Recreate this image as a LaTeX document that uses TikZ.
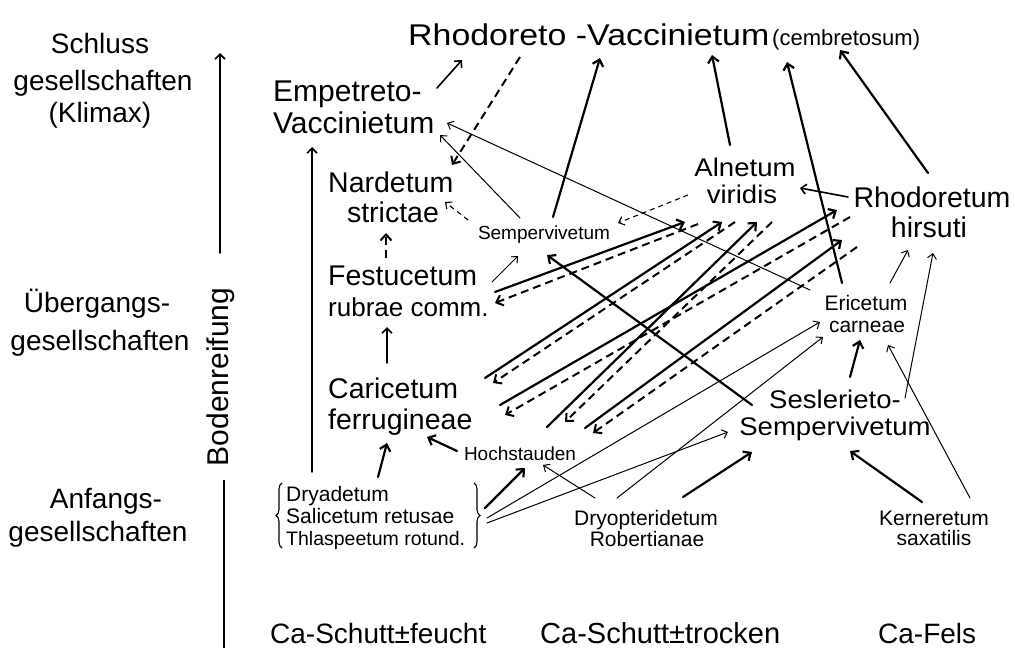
\documentclass[tikz,border=0pt]{standalone}
\usepackage{fontspec}
\setmainfont{Liberation Sans}
\usetikzlibrary{arrows.meta,decorations.pathreplacing}
\newcommand\fsz[1]{\fontsize{#1}{#1}\selectfont}
\newcommand\wid[1]{\scalebox{1.08}[1]{#1}}
\begin{document}
\begin{tikzpicture}[x=1pt,y=-1pt,
  lbl/.style={inner sep=0pt, anchor=base},
  lblw/.style={inner sep=0pt, anchor=base west},
  big/.style={font=\fsz{28.5}},
  mbig/.style={font=\fsz{25.5}},
  side/.style={font=\fsz{28}},
  small/.style={font=\fsz{21}},
  tiny/.style={font=\fsz{19}},
  thk/.style={line width=2.2pt, line cap=round, -{Straight Barb[length=6pt,width=11pt]}},
  mid/.style={line width=1.6pt, line cap=round, -{Straight Barb[length=5pt,width=10pt]}},
  thn/.style={line width=1pt, line cap=round, -{Straight Barb[length=5pt,width=9pt]}},
  dthk/.style={line width=2pt, -{Straight Barb[length=6pt,width=11pt]}, dash pattern=on 8pt off 5pt},
  dthn/.style={line width=1.1pt, -{Straight Barb[length=5pt,width=9pt]}, dash pattern=on 5pt off 4pt},
  brc/.style={decorate, decoration={brace, amplitude=6pt}, line width=1.1pt},
]
\fill[white] (0,0) rectangle (1015,648);
\useasboundingbox (0,0) rectangle (1015,648);

% ---- left side labels
\node[lbl,side] (schl1) at (100,53) {Schluss};
\node[lbl,side] (schl2) at (103,90) {gesellschaften};
\node[lbl,side] (schl3) at (100,122) {(Klimax)};
\node[lbl,side] (ueb1) at (97,312) {Übergangs-};
\node[lbl,side] (ueb2) at (100,350) {gesellschaften};
\node[lbl,side] (anf1) at (106,508) {Anfangs-};
\node[lbl,side] (anf2) at (98,541) {gesellschaften};
\node[lbl,font=\fsz{30},rotate=90] (boden) at (228,377) {Bodenreifung};
\coordinate (axtop) at (220,53);
\coordinate (axa) at (220,253);
\coordinate (axb) at (224,480);
\coordinate (axbot) at (224,648);
\draw[mid] (axa) -- (axtop);
\draw[line width=1.6pt] (axb) -- (axbot);

% ---- community nodes
\node[lblw,font=\fsz{30}] (rv) at (408,45) {\scalebox{1.13}[1]{Rhodoreto -Vaccinietum}};
\node[lblw,font=\fsz{22}] (cemb) at (772,45) {(cembretosum)};
\node[lblw,font=\fsz{30}] (emp1) at (273,101) {Empetreto-};
\node[lblw,font=\fsz{30}] (emp2) at (273,133) {Vaccinietum};
\node[lblw,big] (nard1) at (328,192) {Nardetum};
\node[lbl,big] (nard2) at (393,222) {strictae};
\node[lbl,tiny] (semp) at (544,239) {Sempervivetum};
\node[lblw,big] (fest1) at (328,285) {Festucetum};
\node[lblw,font=\fsz{26}] (fest2) at (328,316) {rubrae comm.};
\node[lbl,mbig] (aln1) at (745,176) {\wid{Alnetum}};
\node[lbl,mbig] (aln2) at (742,203) {\wid{viridis}};
\node[lbl,big] (rh1) at (932,207) {Rhodoretum};
\node[lbl,big] (rh2) at (929,237) {hirsuti};
\node[lbl,small] (eri1) at (866,310) {Ericetum};
\node[lbl,small] (eri2) at (867,332) {carneae};
\node[lblw,big] (car1) at (328,398) {Caricetum};
\node[lblw,big] (car2) at (328,429) {ferrugineae};
\node[lbl,tiny] (hoch) at (520,460) {Hochstauden};
\node[lbl,mbig] (ses1) at (835,408) {\wid{Seslerieto-}};
\node[lbl,mbig] (ses2) at (835,435) {\wid{Sempervivetum}};
\node[lblw,small] (dry1) at (286,501) {Dryadetum};
\node[lblw,small] (dry2) at (286,523) {Salicetum retusae};
\node[lblw,font=\fsz{19.5}] (dry3) at (286,545) {Thlaspeetum rotund.};
\node[lbl,small] (dp1) at (646,525) {Dryopteridetum};
\node[lbl,small] (dp2) at (647,546) {Robertianae};
\node[lbl,small] (ker1) at (934,525) {Kerneretum};
\node[lbl,small] (ker2) at (934,545) {saxatilis};
\node[lblw,font=\fsz{28}] (ca1) at (270,643) {Ca-Schutt±feucht};
\node[lblw,font=\fsz{29}] (ca2) at (540,643) {Ca-Schutt±trocken};
\node[lblw,font=\fsz{28}] (ca3) at (878,643) {Ca-Fels};

% braces
\coordinate (bl1) at (282,548); \coordinate (bl2) at (282,483);
\coordinate (br1) at (474,483); \coordinate (br2) at (474,548);
\draw[brc] (bl1) -- (bl2);
\draw[brc] (br1) -- (br2);

% ---- connector end points
\coordinate (p1a) at (312,472); \coordinate (p1b) at (312,147);
\coordinate (p2a) at (437,88);  \coordinate (p2b) at (462,60);
\coordinate (p3a) at (520,57);  \coordinate (p3b) at (452,165);
\coordinate (p4a) at (553,217); \coordinate (p4b) at (600,58);
\coordinate (p5a) at (730,145); \coordinate (p5b) at (712,55);
\coordinate (p6a) at (842,283); \coordinate (p6b) at (787,62);
\coordinate (p7a) at (928,173); \coordinate (p7b) at (840,50);
\coordinate (p8a) at (848,197); \coordinate (p8b) at (800,188);
\coordinate (p9a) at (520,218); \coordinate (p9b) at (440,135);
\coordinate (p10a) at (810,290); \coordinate (p10b) at (447,123);
\coordinate (p11a) at (468,220); \coordinate (p11b) at (445,202);
\coordinate (p12a) at (688,195); \coordinate (p12b) at (618,223);
\coordinate (p13a) at (386,258); \coordinate (p13b) at (386,233);
\coordinate (p14a) at (387,363); \coordinate (p14b) at (387,327);
\coordinate (p15a) at (492,282); \coordinate (p15b) at (518,256);
% pairs
\coordinate (s1a) at (495,292); \coordinate (s1b) at (685,222);
\coordinate (d1a) at (698,224); \coordinate (d1b) at (495,303);
\coordinate (s2a) at (485,378); \coordinate (s2b) at (722,222);
\coordinate (d2a) at (735,222); \coordinate (d2b) at (493,383);
\coordinate (s3a) at (500,405); \coordinate (s3b) at (837,210);
\coordinate (d3a) at (850,217); \coordinate (d3b) at (505,415);
\coordinate (s4a) at (547,427); \coordinate (s4b) at (757,222);
\coordinate (d4a) at (772,222); \coordinate (d4b) at (565,422);
\coordinate (s5a) at (585,428); \coordinate (s5b) at (842,240);
\coordinate (d5a) at (857,247); \coordinate (d5b) at (593,433);
% lower part
\coordinate (q1a) at (752,405); \coordinate (q1b) at (547,255);
\coordinate (q2a) at (850,377); \coordinate (q2b) at (860,340);
\coordinate (q3a) at (905,398); \coordinate (q3b) at (933,253);
\coordinate (q4a) at (890,283); \coordinate (q4b) at (908,250);
\coordinate (q5a) at (970,498); \coordinate (q5b) at (888,345);
\coordinate (q6a) at (922,502); \coordinate (q6b) at (850,451);
\coordinate (q7a) at (683,497); \coordinate (q7b) at (752,452);
\coordinate (q8a) at (595,498); \coordinate (q8b) at (543,465);
\coordinate (q9a) at (617,498); \coordinate (q9b) at (823,337);
\coordinate (q10a) at (485,508); \coordinate (q10b) at (525,468);
\coordinate (q11a) at (487,518); \coordinate (q11b) at (820,322);
\coordinate (q12a) at (487,523); \coordinate (q12b) at (728,432);
\coordinate (q13a) at (378,477); \coordinate (q13b) at (387,443);
\coordinate (q14a) at (457,451); \coordinate (q14b) at (427,437);

% ---- connectors
\draw[mid] (p1a) -- (p1b);
\draw[mid] (p2a) -- (p2b);
\draw[dthk] (p3a) -- (p3b);
\draw[thk] (p4a) -- (p4b);
\draw[thk] (p5a) -- (p5b);
\draw[thk] (p6a) -- (p6b);
\draw[thk] (p7a) -- (p7b);
\draw[mid] (p8a) -- (p8b);
\draw[thn] (p9a) -- (p9b);
\draw[thn] (p10a) -- (p10b);
\draw[dthn] (p11a) -- (p11b);
\draw[dthn] (p12a) -- (p12b);
\draw[dthk] (p13a) -- (p13b);
\draw[mid] (p14a) -- (p14b);
\draw[thn] (p15a) -- (p15b);

\draw[thk] (s1a) -- (s1b);
\draw[dthk] (d1a) -- (d1b);
\draw[thk] (s2a) -- (s2b);
\draw[dthk] (d2a) -- (d2b);
\draw[thk] (s3a) -- (s3b);
\draw[dthk] (d3a) -- (d3b);
\draw[thk] (s4a) -- (s4b);
\draw[dthk] (d4a) -- (d4b);
\draw[thk] (s5a) -- (s5b);
\draw[dthk] (d5a) -- (d5b);

\draw[thk] (q1a) -- (q1b);
\draw[thk] (q2a) -- (q2b);
\draw[thn] (q3a) -- (q3b);
\draw[thn] (q4a) -- (q4b);
\draw[thn] (q5a) -- (q5b);
\draw[thk] (q6a) -- (q6b);
\draw[thk] (q7a) -- (q7b);
\draw[thn] (q8a) -- (q8b);
\draw[thn] (q9a) -- (q9b);
\draw[thk] (q10a) -- (q10b);
\draw[thn] (q11a) -- (q11b);
\draw[thn] (q12a) -- (q12b);
\draw[thk] (q13a) -- (q13b);
\draw[thk] (q14a) -- (q14b);
\end{tikzpicture}
\end{document}
